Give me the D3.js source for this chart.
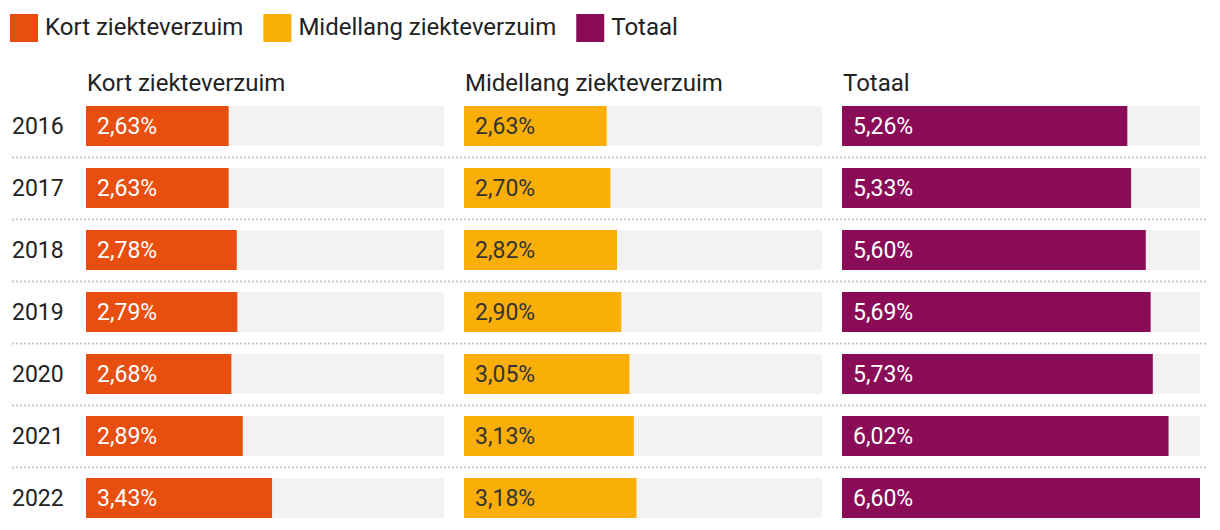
<!DOCTYPE html>
<html><head><meta charset="utf-8">
<script src="https://cdn.jsdelivr.net/npm/d3@7"></script>
<style>
html,body{margin:0;padding:0;background:#fff;}
svg{display:block;font-family:Roboto, "Noto Sans", sans-serif;}
</style></head>
<body><svg id="c" width="1220" height="530"></svg>
<script>
const years = ["2016","2017","2018","2019","2020","2021","2022"];
const seriesNames = ["Kort ziekteverzuim","Midellang ziekteverzuim","Totaal"];
const kort = [2.63,2.63,2.78,2.79,2.68,2.89,3.43];
const midellang = [2.63,2.70,2.82,2.90,3.05,3.13,3.18];
const totaal = [5.26,5.33,5.60,5.69,5.73,6.02,6.60];
const colors = ["#E84E0F","#F9AE08","#8A0C57"];
const labelColors = ["#ffffff","#333333","#ffffff"];
const seriesValues = [kort, midellang, totaal];

const svg = d3.select("#c");
const fmt = v => d3.format(".2f")(v).replace(".", ",") + "%";

// legend
const leg = svg.append("g");
let lx = 10;
seriesNames.forEach((n,i)=>{
  leg.append("rect").attr("x",lx).attr("y",14).attr("width",28).attr("height",28).attr("fill",colors[i]);
  const t = leg.append("text").attr("x",lx+35).attr("y",35).attr("font-size",24).attr("fill","#222").text(n);
  lx += 35 + t.node().getComputedTextLength() + 20;
});

const colX = d3.scaleBand().domain(seriesNames)
  .range([86, 86 + 3*358 + 2*20]).paddingInner(20/378).paddingOuter(0);
const y = d3.scaleBand().domain(years)
  .range([106, 106 + 62*7 - 22]).paddingInner(22/62).paddingOuter(0);
const maxV = d3.max(totaal);
const x = d3.scaleLinear().domain([0, maxV]).range([0, colX.bandwidth()]);

// separators
years.forEach((yr,i)=>{
  if(i < years.length-1){
    const yy = y(yr) + y.bandwidth() + 11.5;
    svg.append("line").attr("x1",12).attr("x2",1208).attr("y1",yy).attr("y2",yy)
      .attr("stroke","#c8c8c8").attr("stroke-width",2).attr("stroke-dasharray","2,2");
  }
});

// year labels
svg.selectAll(".yl").data(years).join("text")
  .attr("x",12).attr("y",d=>y(d)+y.bandwidth()/2+8).attr("font-size",23).attr("fill","#222").text(d=>d);

seriesNames.forEach((name,si)=>{
  const g = svg.append("g").attr("transform",`translate(${colX(name)},0)`);
  g.append("text").attr("x",1).attr("y",91).attr("font-size",24).attr("fill","#222").text(name);
  const vals = seriesValues[si];
  g.selectAll(".bg").data(years).join("rect")
    .attr("x",0).attr("y",d=>y(d)).attr("width",colX.bandwidth()).attr("height",y.bandwidth()).attr("fill","#f2f2f2");
  g.selectAll(".bar").data(vals).join("rect")
    .attr("x",0).attr("y",(d,i)=>y(years[i])).attr("width",d=>x(d)).attr("height",y.bandwidth()).attr("fill",colors[si]);
  g.selectAll(".lbl").data(vals).join("text")
    .attr("x",11).attr("y",(d,i)=>y(years[i])+y.bandwidth()/2+8).attr("font-size",23)
    .attr("fill",labelColors[si]).text(d=>fmt(d));
});
</script></body></html>
